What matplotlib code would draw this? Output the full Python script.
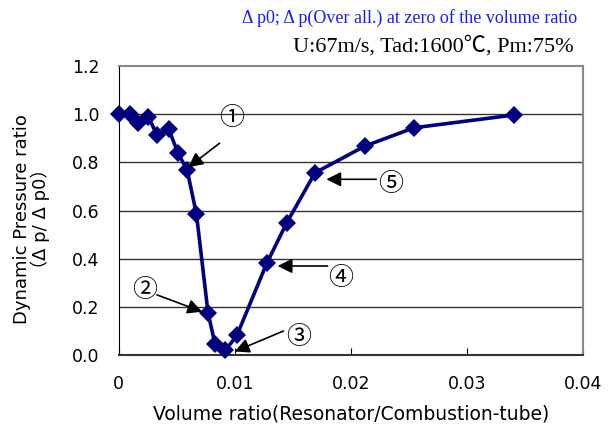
import matplotlib
matplotlib.use("Agg")
import matplotlib.pyplot as plt

volume_ratio = [0.0, 0.00097, 0.0017, 0.00255, 0.0033, 0.0043, 0.0051, 0.0059,
                0.0067, 0.0077, 0.0083, 0.0092, 0.0102, 0.01276, 0.01448,
                0.01692, 0.02123, 0.02546, 0.03408]
pressure_ratio = [1.0, 1.0, 0.962, 0.99, 0.914, 0.94, 0.84, 0.768,
                  0.586, 0.176, 0.046, 0.02, 0.083, 0.381, 0.549,
                  0.757, 0.868, 0.944, 0.997]

xticks = [0, 0.01, 0.02, 0.03, 0.04]
xticklabels = ["0", "0.01", "0.02", "0.03", "0.04"]
yticks = [0.0, 0.2, 0.4, 0.6, 0.8, 1.0, 1.2]

# annotations: label, arrow tip (data), arrow tail (data), text pos (data)
ann_labels = ["①", "②", "③", "④", "⑤"]
ann_tips = [(0.0060, 0.78), (0.0072, 0.18), (0.0100, 0.015), (0.0137, 0.37), (0.0179, 0.73)]
ann_tails = [(0.0087, 0.88), (0.0033, 0.25), (0.0142, 0.10), (0.0180, 0.37), (0.0222, 0.73)]
ann_text = [(0.0097, 0.985), (0.0022, 0.27), (0.0155, 0.075), (0.0191, 0.32), (0.0234, 0.71)]

fig = plt.figure(figsize=(6.16, 4.32), dpi=100)
ax = fig.add_axes([0.1927, 0.178, 0.7533, 0.669])

for y in yticks[1:-1]:
    ax.axhline(y, color="#333333", lw=1.0, zorder=1)

ax.plot(volume_ratio, pressure_ratio, color="#000080", lw=2.6, marker="D",
        markersize=9.5, markeredgewidth=0, zorder=3, clip_on=False)

ax.set_xlim(0, 0.04)
ax.set_ylim(0, 1.2)
ax.set_xticks(xticks)
ax.set_xticklabels(xticklabels)
ax.set_yticks(yticks)
ax.set_yticklabels([f"{v:.1f}" for v in yticks])
ax.tick_params(axis="x", direction="in", length=5, labelsize=12.5, pad=14)
ax.tick_params(axis="y", direction="out", length=0, labelsize=12.5, pad=14)
for lab in ax.get_xticklabels() + ax.get_yticklabels():
    lab.set_family("DejaVu Sans")

ax.spines["left"].set_color("black")
ax.spines["bottom"].set_color("#333333")
ax.spines["bottom"].set_linewidth(1.5)
ax.spines["top"].set_color("#888888")
ax.spines["right"].set_color("#888888")
ax.spines["top"].set_linewidth(1.5)
ax.spines["right"].set_linewidth(1.5)

ax.set_xlabel("Volume ratio(Resonator/Combustion-tube)", fontsize=13.5,
              family="DejaVu Sans")
ax.xaxis.set_label_coords(0.5, -0.17)
ax.set_ylabel("Dynamic Pressure ratio\n（Δ p/ Δ p0）", fontsize=13,
              family=["DejaVu Sans", "Noto Sans CJK JP"], linespacing=1.0)
ax.yaxis.set_label_coords(-0.148, 0.47)

for lab, tip, tail, tp in zip(ann_labels, ann_tips, ann_tails, ann_text):
    ax.annotate("", xy=tip, xytext=tail,
                arrowprops=dict(arrowstyle="-|>", color="black", lw=1.2,
                                mutation_scale=22, shrinkA=0, shrinkB=0), zorder=4)
    ax.text(tp[0], tp[1], lab, fontsize=18, ha="center", va="center",
            family=["Noto Sans CJK JP", "DejaVu Serif"], zorder=5)

fig.text(0.937, 0.958, "Δ p0; Δ p(Over all.) at zero of the volume ratio",
         color="#1a1aff", fontsize=13, ha="right", va="center",
         family=["Liberation Serif", "DejaVu Serif"])
fig.text(0.932, 0.893, "U:67m/s, Tad:1600℃, Pm:75%",
         color="black", fontsize=16, ha="right", va="center",
         family=["Liberation Serif", "Noto Sans CJK JP"])

fig.savefig("out.png", dpi=100)
